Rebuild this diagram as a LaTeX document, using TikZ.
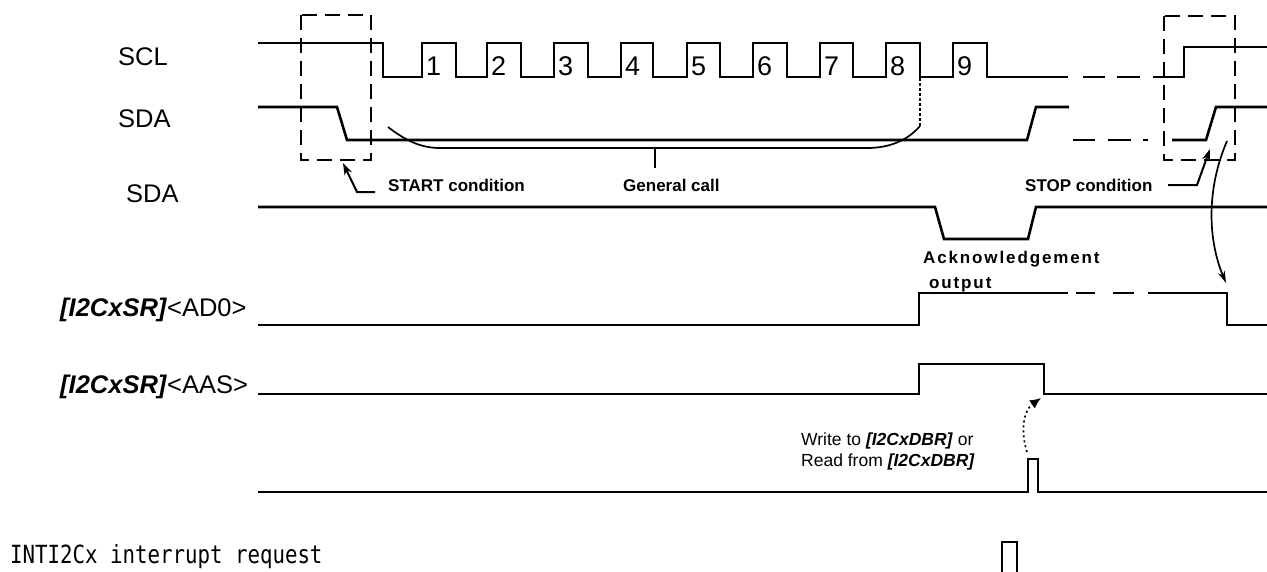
\documentclass[tikz,border=0pt]{standalone}
\usepackage{fontspec}
\setmainfont{Liberation Sans}
\newfontfamily\gothic[FakeStretch=0.83]{DejaVu Sans Mono}
\usetikzlibrary{arrows.meta}
\begin{document}
\begin{tikzpicture}[x=1pt,y=-1pt,
  sig/.style={line width=2.6pt,line join=miter},
  dashbox/.style={line width=2pt,dash pattern=on 15pt off 8pt},
  thinline/.style={line width=1.7pt},
  arr/.style={line width=2pt,-{Stealth[length=12pt,width=8pt]}},
  lbl/.style={inner sep=0pt,anchor=base west,font=\fontsize{25.5}{30}\selectfont},
  num/.style={inner sep=0pt,anchor=base west,font=\fontsize{27}{30}\selectfont},
  bl/.style={inner sep=0pt,anchor=base west,font=\fontsize{17}{20}\selectfont\bfseries},
  sm/.style={inner sep=0pt,anchor=base west,font=\fontsize{17.5}{20}\selectfont}]
\useasboundingbox (0,0) rectangle (1267,571);

% SCL
\draw[sig] (258,43) -| (383,77) -| (422,43) -| (456,77) -| (487,43) -| (521,77)
  -| (554,43) -| (588,77) -| (621,43) -| (653,77) -| (687,43) -| (720,77)
  -| (753,43) -| (787,77) -| (820,43) -| (853,77) -| (886,43) -| (920,77)
  -| (953,43) -| (987,77) -- (1068,77);
\draw[sig] (1083,77) -- (1105,77);
\draw[sig] (1117,77) -- (1140,77);
\draw[sig] (1153,77) -| (1184,47) -- (1267,47);

% numbers
\foreach \n/\x in {1/422,2/487,3/554,4/621,5/687,6/753,7/820,8/886,9/953}
  \node[num] (n\n) at (\x+4,75) {\n};

% SDA 1
\draw[sig] (258,107) -- (337,107) -- (347,140) -- (1027,140) -- (1036,107) -- (1069,107);
\draw[sig] (1073,140) -- (1095,140);
\draw[sig] (1108,140) -- (1131,140);
\draw[sig] (1143,140) -- (1148,140);
\draw[sig] (1172,140) -- (1206,140) -- (1216,107) -- (1267,107);

% SDA 2
\draw[sig] (258,207) -- (935,207) -- (944,239) -- (1028,239) -- (1036,207) -- (1267,207);

% AD0
\draw[sig] (258,325) -| (919,293) -- (1068,293);
\draw[sig] (1076,293) -- (1095,293);
\draw[sig] (1113,293) -- (1134,293);
\draw[sig] (1148,293) -| (1227,325) -- (1267,325);

% AAS
\draw[sig] (258,394) -| (919,364) -| (1044,394) -- (1267,394);

% DBR pulse
\draw[sig] (258,492) -| (1028,459) -| (1038,492) -- (1267,492);

% INT pulse
\draw[sig] (1002,580) |- (1017,542) -- (1017,580);

% dashed boxes
\draw[dashbox] (301,15) rectangle (371,160);
\draw[dashbox] (1164,16) rectangle (1235,160);

% general call brace
\draw[thinline] (388,127) .. controls (405,140) and (420,148) .. (440,148) -- (867,148)
  .. controls (890,148) and (908,140) .. (920,126);
\draw[thinline,dash pattern=on 3pt off 2pt] (920,78) -- (920,126);
\draw[line width=2pt] (655,148) -- (655,168);

% labels left
\node[lbl] (scl) at (118,65) {SCL};
\node[lbl] (sda) at (118,127) {SDA};
\node[lbl] (sdab) at (126,202) {SDA};
\node[lbl] (ad0) at (60,316) {\textbf{\textit{[I2CxSR]}}<AD0>};
\node[lbl] (aas) at (60,393) {\textbf{\textit{[I2CxSR]}}<AAS>};
\node[inner sep=0pt,anchor=base west,font=\gothic\fontsize{25}{30}\selectfont] (int) at (10,563) {INTI2Cx interrupt request};

% bold labels
\node[bl] (start) at (388,191) {START condition};
\node[bl] (gcall) at (623,191) {General call};
\node[bl] (stop) at (1025,191) {STOP condition};
\node[bl] (ack) at (923,263) {\addfontfeatures{LetterSpace=11}Acknowledgement};
\node[bl] (ackb) at (929,288) {\addfontfeatures{LetterSpace=11}output};

\node[sm] (wr) at (801,445) {Write to \textbf{\textit{[I2CxDBR]}} or};
\node[sm] (rd) at (801,466) {Read from \textbf{\textit{[I2CxDBR]}}};

% arrows
\coordinate (sa0) at (375,192);
\coordinate (sa1) at (357,192);
\coordinate (sa2) at (343,163);
\draw[arr] (sa0) -- (sa1) -- (sa2);
\coordinate (st0) at (1168,185);
\coordinate (st1) at (1197,185);
\coordinate (st2) at (1210,149);
\draw[arr] (st0) -- (st1) -- (st2);
\coordinate (c0) at (1227,141);
\coordinate (c1) at (1226,283);
\draw[line width=1.7pt,-{Stealth[length=12pt,width=7pt]}] (c0) .. controls (1206,190) and (1208,240) .. (c1);
\coordinate (d0) at (1027,452);
\coordinate (d1) at (1041,398);
\draw[line width=1.7pt,dash pattern=on 2pt off 3pt,-{Latex[length=11pt,width=10pt]}] (d0) .. controls (1020,430) and (1024,410) .. (d1);
\end{tikzpicture}
\end{document}
